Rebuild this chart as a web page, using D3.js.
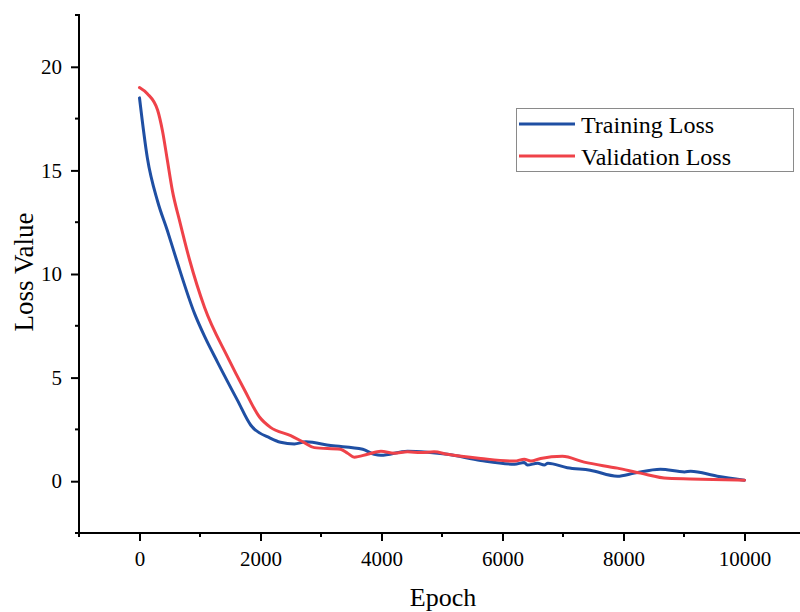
<!DOCTYPE html>
<html>
<head>
<meta charset="utf-8">
<script src="https://cdn.jsdelivr.net/npm/d3@7"></script>
<style>
  body { margin: 0; background: #fff; }
  svg text { font-family: "Liberation Serif", "Times New Roman", serif; fill: #000; }
</style>
</head>
<body>
<div id="chart"></div>
<script>
// values
const trainEpoch = [0, 130, 300, 460, 610, 909, 1074, 1289, 1620, 1840, 2160, 2330, 2560, 2750, 3160, 3690, 3880, 3990, 4430, 4760, 5090, 5640, 6200, 6360, 6410, 6580, 6690, 6750, 7070, 7450, 7900, 8180, 8610, 9010, 9110, 9550, 10000];
const trainLoss = [18.5, 15.6, 13.5, 12.1, 10.7, 8.1, 7.0, 5.75, 3.9, 2.7, 2.08, 1.88, 1.8, 1.9, 1.72, 1.54, 1.3, 1.25, 1.45, 1.4, 1.3, 1.0, 0.82, 0.9, 0.78, 0.87, 0.78, 0.87, 0.65, 0.53, 0.24, 0.39, 0.58, 0.45, 0.48, 0.24, 0.05];

const valEpoch = [0, 130, 300, 380, 460, 545, 660, 826, 1074, 1455, 1736, 1983, 2165, 2500, 2730, 2890, 3320, 3440, 3550, 3770, 3990, 4210, 4430, 4650, 4870, 5090, 5640, 6200, 6360, 6470, 6630, 6990, 7350, 7900, 8280, 8730, 9280, 10000];
const valLoss = [19.0, 18.7, 17.9, 16.9, 15.5, 14.0, 12.6, 10.7, 8.4, 6.0, 4.4, 3.1, 2.6, 2.2, 1.85, 1.62, 1.54, 1.35, 1.16, 1.3, 1.45, 1.35, 1.42, 1.38, 1.42, 1.3, 1.1, 0.97, 1.06, 0.97, 1.1, 1.2, 0.92, 0.63, 0.39, 0.14, 0.1, 0.05];

const xMajor = [0, 2000, 4000, 6000, 8000, 10000];
const xMinor = [-1000, 1000, 3000, 5000, 7000, 9000, 11000];
const yMajor = [0, 5, 10, 15, 20];
const yMinor = [-2.5, 2.5, 7.5, 12.5, 17.5, 22.5];

const series = [
  { name: "Training Loss", color: "#1f4fa3", epoch: trainEpoch, loss: trainLoss },
  { name: "Validation Loss", color: "#ef4249", epoch: valEpoch, loss: valLoss }
];

const width = 800;
const height = 612;

const x = d3.scaleLinear().domain([-1000, 11000]).range([79, 805]);
const y = d3.scaleLinear().domain([-2.5, 22.5]).range([533, 15]);

const svg = d3.select("#chart").append("svg")
  .attr("width", width)
  .attr("height", height);

// lines
const line = d3.line()
  .x(function (d) { return x(d[0]); })
  .y(function (d) { return y(d[1]); })
  .curve(d3.curveMonotoneX);

series.forEach(function (s) {
  const pts = s.epoch.map(function (e, i) { return [e, s.loss[i]]; });
  svg.append("path")
    .datum(pts)
    .attr("d", line)
    .attr("fill", "none")
    .attr("stroke", s.color)
    .attr("stroke-width", 3)
    .attr("stroke-linejoin", "round")
    .attr("stroke-linecap", "round");
});

// axes
const xAxis = d3.axisBottom(x).tickValues(xMajor).tickSize(8).tickPadding(10).tickFormat(d3.format("d"));
const yAxis = d3.axisLeft(y).tickValues(yMajor).tickSize(8).tickPadding(9).tickFormat(d3.format("d"));

const gx = svg.append("g").attr("transform", "translate(0,533)").call(xAxis);
const gy = svg.append("g").attr("transform", "translate(79,0)").call(yAxis);

[gx, gy].forEach(function (g) {
  g.select(".domain").remove();
  g.selectAll(".tick line").attr("stroke", "#000").attr("stroke-width", 2);
  g.selectAll(".tick text")
    .style("font-family", "'Liberation Serif', serif")
    .style("font-size", "21px")
    .attr("fill", "#000");
});

gx.selectAll(".minor").data(xMinor).join("line")
  .attr("class", "minor")
  .attr("x1", function (d) { return x(d); })
  .attr("x2", function (d) { return x(d); })
  .attr("y1", 0).attr("y2", 4)
  .attr("stroke", "#000").attr("stroke-width", 2);

gy.selectAll(".minor").data(yMinor).join("line")
  .attr("class", "minor")
  .attr("y1", function (d) { return y(d); })
  .attr("y2", function (d) { return y(d); })
  .attr("x1", 0).attr("x2", -4)
  .attr("stroke", "#000").attr("stroke-width", 2);

svg.append("line")
  .attr("x1", 79).attr("x2", 805).attr("y1", 533).attr("y2", 533)
  .attr("stroke", "#000").attr("stroke-width", 2);
svg.append("line")
  .attr("x1", 79).attr("x2", 79).attr("y1", 14).attr("y2", 534)
  .attr("stroke", "#000").attr("stroke-width", 2);

// axis titles
svg.append("text")
  .attr("x", 443).attr("y", 606)
  .attr("text-anchor", "middle")
  .style("font-size", "26px")
  .text("Epoch");

svg.append("text")
  .attr("transform", "translate(33,272) rotate(-90)")
  .attr("text-anchor", "middle")
  .style("font-size", "27px")
  .text("Loss Value");

// legend
const legend = svg.append("g");
legend.append("rect")
  .attr("x", 516.5).attr("y", 108.5)
  .attr("width", 277).attr("height", 63)
  .attr("fill", "#fff")
  .attr("stroke", "#8a8a8a")
  .attr("stroke-width", 1);

series.forEach(function (s, i) {
  const ly = 124 + i * 32;
  legend.append("line")
    .attr("x1", 519).attr("x2", 575)
    .attr("y1", ly).attr("y2", ly)
    .attr("stroke", s.color)
    .attr("stroke-width", 3);
  legend.append("text")
    .attr("x", 581).attr("y", ly + 9)
    .style("font-size", "24px")
    .text(s.name);
});
</script>
</body>
</html>
